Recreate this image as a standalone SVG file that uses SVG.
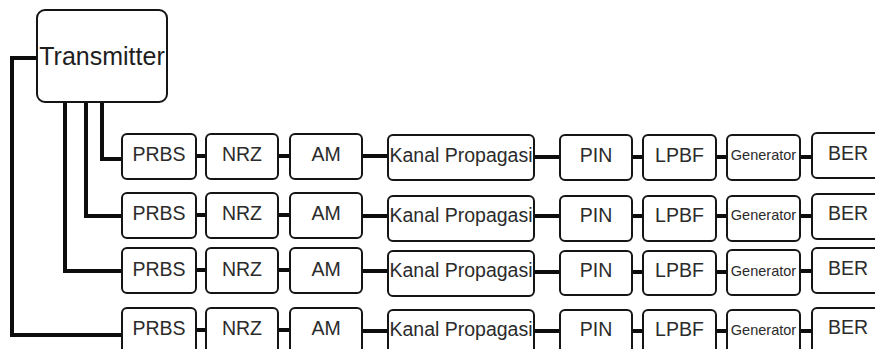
<svg xmlns="http://www.w3.org/2000/svg" width="875" height="349" viewBox="0 0 875 349">
<style>
.bg{fill:#ffffff}
.box{fill:#ffffff;stroke:#151515;stroke-width:2}
.t{font-family:"Liberation Sans",Arial,sans-serif;font-size:19.5px;fill:#2b2b2b;text-anchor:middle}
.tg{font-family:"Liberation Sans",Arial,sans-serif;font-size:14.5px;fill:#2b2b2b;text-anchor:middle}
.tt{font-family:"Liberation Sans",Arial,sans-serif;font-size:25px;fill:#1e1e1e;text-anchor:middle}
.c{fill:none;stroke:#0d0d0d;stroke-width:4;stroke-linejoin:miter;stroke-linecap:butt}
</style>
<rect class="bg" x="0" y="0" width="875" height="349"/>
<g id="connectors">
<path class="c" d="M102,102 V159 H122"/>
<path class="c" d="M86,102 V216 H122"/>
<path class="c" d="M65,102 V271 H122"/>
<path class="c" d="M37,58 H12 V335 H122"/>
<path class="c" d="M196,156 H206 M278,156 H290 M362,156 H388 M534,157 H560 M632,157 H643 M716,157 H727 M800,157 H812"/>
<path class="c" d="M196,215 H206 M278,215 H290 M362,216 H388 M534,216 H560 M632,216 H643 M716,216 H727 M800,216 H812"/>
<path class="c" d="M196,270 H206 M278,270 H290 M362,271 H388 M534,272 H560 M632,272 H643 M716,272 H727 M800,271 H812"/>
<path class="c" d="M196,330 H206 M278,330 H290 M362,331 H388 M534,331 H560 M632,331 H643 M716,331 H727 M800,331 H812"/>
</g>
<g id="transmitter"><rect class="box" x="37" y="10" width="130" height="92" rx="8"/><text class="tt" x="102" y="65">Transmitter</text></g>
<!-- Row 1 -->
<g id="prbs1"><rect class="box" x="122" y="134" width="74" height="45" rx="5"/><text class="t" x="159" y="161">PRBS</text></g>
<g id="nrz1"><rect class="box" x="206" y="134" width="72" height="45" rx="5"/><text class="t" x="242" y="161">NRZ</text></g>
<g id="am1"><rect class="box" x="290" y="134" width="72" height="45" rx="5"/><text class="t" x="326" y="161">AM</text></g>
<g id="kanal1"><rect class="box" x="388" y="135" width="146" height="45" rx="5"/><text class="t" x="461" y="162">Kanal Propagasi</text></g>
<g id="pin1"><rect class="box" x="560" y="135" width="72" height="45" rx="5"/><text class="t" x="596" y="162">PIN</text></g>
<g id="lpbf1"><rect class="box" x="643" y="135" width="73" height="45" rx="5"/><text class="t" x="679.5" y="162">LPBF</text></g>
<g id="gen1"><rect class="box" x="727" y="135" width="73" height="45" rx="5"/><text class="tg" x="763.5" y="160">Generator</text></g>
<g id="ber1"><rect class="box" x="812" y="133" width="72" height="45" rx="5"/><text class="t" x="848" y="160">BER</text></g>
<!-- Row 2 -->
<g id="prbs2"><rect class="box" x="122" y="193" width="74" height="45" rx="5"/><text class="t" x="159" y="220">PRBS</text></g>
<g id="nrz2"><rect class="box" x="206" y="193" width="72" height="45" rx="5"/><text class="t" x="242" y="220">NRZ</text></g>
<g id="am2"><rect class="box" x="290" y="193" width="72" height="45" rx="5"/><text class="t" x="326" y="220">AM</text></g>
<g id="kanal2"><rect class="box" x="388" y="196" width="146" height="45" rx="5"/><text class="t" x="461" y="222">Kanal Propagasi</text></g>
<g id="pin2"><rect class="box" x="560" y="196" width="72" height="45" rx="5"/><text class="t" x="596" y="222">PIN</text></g>
<g id="lpbf2"><rect class="box" x="643" y="196" width="73" height="45" rx="5"/><text class="t" x="679.5" y="222">LPBF</text></g>
<g id="gen2"><rect class="box" x="727" y="196" width="73" height="45" rx="5"/><text class="tg" x="763.5" y="220">Generator</text></g>
<g id="ber2"><rect class="box" x="812" y="194" width="72" height="45" rx="5"/><text class="t" x="848" y="220">BER</text></g>
<!-- Row 3 -->
<g id="prbs3"><rect class="box" x="122" y="248" width="74" height="45" rx="5"/><text class="t" x="159" y="276">PRBS</text></g>
<g id="nrz3"><rect class="box" x="206" y="248" width="72" height="45" rx="5"/><text class="t" x="242" y="276">NRZ</text></g>
<g id="am3"><rect class="box" x="290" y="248" width="72" height="45" rx="5"/><text class="t" x="326" y="276">AM</text></g>
<g id="kanal3"><rect class="box" x="388" y="251" width="146" height="45" rx="5"/><text class="t" x="461" y="277">Kanal Propagasi</text></g>
<g id="pin3"><rect class="box" x="560" y="251" width="72" height="44" rx="5"/><text class="t" x="596" y="277">PIN</text></g>
<g id="lpbf3"><rect class="box" x="643" y="251" width="73" height="44" rx="5"/><text class="t" x="679.5" y="277">LPBF</text></g>
<g id="gen3"><rect class="box" x="727" y="250" width="73" height="45" rx="5"/><text class="tg" x="763.5" y="276">Generator</text></g>
<g id="ber3"><rect class="box" x="812" y="248" width="72" height="45" rx="5"/><text class="t" x="848" y="275">BER</text></g>
<!-- Row 4 -->
<g id="prbs4"><rect class="box" x="122" y="308" width="74" height="45" rx="5"/><text class="t" x="159" y="335">PRBS</text></g>
<g id="nrz4"><rect class="box" x="206" y="308" width="72" height="45" rx="5"/><text class="t" x="242" y="335">NRZ</text></g>
<g id="am4"><rect class="box" x="290" y="308" width="72" height="45" rx="5"/><text class="t" x="326" y="335">AM</text></g>
<g id="kanal4"><rect class="box" x="388" y="310" width="146" height="45" rx="5"/><text class="t" x="461" y="336">Kanal Propagasi</text></g>
<g id="pin4"><rect class="box" x="560" y="310" width="72" height="45" rx="5"/><text class="t" x="596" y="336">PIN</text></g>
<g id="lpbf4"><rect class="box" x="643" y="310" width="73" height="45" rx="5"/><text class="t" x="679.5" y="336">LPBF</text></g>
<g id="gen4"><rect class="box" x="727" y="310" width="73" height="45" rx="5"/><text class="tg" x="763.5" y="335">Generator</text></g>
<g id="ber4"><rect class="box" x="812" y="308" width="72" height="45" rx="5"/><text class="t" x="848" y="334">BER</text></g>
</svg>
